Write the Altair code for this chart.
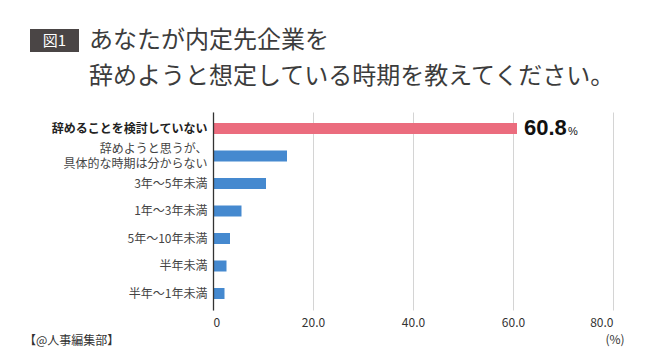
import altair as alt
import pandas as pd

categories = [
    "辞めることを検討していない",
    "辞めようと思うが、|具体的な時期は分からない",
    "3年〜5年未満",
    "1年〜3年未満",
    "5年〜10年未満",
    "半年未満",
    "半年〜1年未満",
]
values = [60.8, 14.8, 10.6, 5.7, 3.4, 2.7, 2.3]
x_ticks = [0, 20, 40, 60, 80]
fig_label = ["図1"]
title_line1 = ["あなたが内定先企業を"]
title_line2 = ["辞めようと想定している時期を教えてください。"]
source_text = ["【@人事編集部】"]
unit_text = ["(%)"]
highlight_cat = categories[0]
twoline_cat = categories[1]

JP = "Noto Sans CJK JP"
NUM = "Liberation Sans"
PINK = "#EB6C7E"
BLUE = "#4589CF"

df = pd.DataFrame({"cat": categories, "value": values})
df_top = df[df["cat"] == highlight_cat].reset_index(drop=True)
df_top = df_top.assign(label=df_top["value"].map(lambda v: f"{v:.1f}"), pct="%")

y_enc = alt.Y(
    "cat:N",
    sort=categories,
    scale=alt.Scale(paddingInner=0, paddingOuter=0.1),
    axis=alt.Axis(
        title=None,
        domain=True,
        domainColor="#333333",
        domainWidth=1.3,
        ticks=False,
        grid=False,
        labelPadding=6,
        labelFont=JP,
        labelFontSize=12,
        labelLimit=300,
        labelLineHeight=15,
        labelOffset={"expr": f"datum.value == '{twoline_cat}' ? -7.5 : 0"},
        labelColor={"expr": f"datum.value == '{highlight_cat}' ? '#222222' : '#444444'"},
        labelFontWeight={"expr": f"datum.value == '{highlight_cat}' ? 'bold' : 'normal'"},
        labelExpr="split(datum.value, '|')",
        zindex=1,
    ),
)

x_enc = alt.X(
    "value:Q",
    scale=alt.Scale(domain=[0, 80], nice=False),
    axis=alt.Axis(
        title=None,
        values=x_ticks,
        domain=False,
        ticks=False,
        grid=True,
        gridColor="#d4d4d4",
        gridWidth=1,
        labelPadding=7,
        labelFont=JP,
        labelFontSize=12,
        labelColor="#333333",
        labelExpr="datum.value == 0 ? '0' : format(datum.value, '.1f')",
    ),
)

bars = alt.Chart(df).mark_bar(size=11).encode(
    y=y_enc,
    x=x_enc,
    color=alt.condition(
        f"datum.cat == '{highlight_cat}'", alt.value(PINK), alt.value(BLUE)
    ),
)

val_label = alt.Chart(df_top).mark_text(
    align="left", baseline="alphabetic", dx=7, dy=6,
    font=NUM, fontWeight="bold", fontSize=22, color="#111111",
).encode(
    y=alt.Y("cat:N", sort=categories),
    x=alt.X("value:Q"),
    text="label:N",
)

pct_label = alt.Chart(df_top).mark_text(
    align="left", baseline="alphabetic", dx=51, dy=6,
    font=NUM, fontSize=11, color="#111111",
).encode(
    y=alt.Y("cat:N", sort=categories),
    x=alt.X("value:Q"),
    text="pct:N",
)

box = alt.Chart(pd.DataFrame({"t": fig_label})).mark_rect(color="#4a4545").encode(
    x=alt.value(-183), x2=alt.value(-134), y=alt.value(-83), y2=alt.value(-60)
)
box_text = alt.Chart(pd.DataFrame({"t": fig_label})).mark_text(
    font=JP, fontSize=15, color="white", align="center", baseline="middle"
).encode(x=alt.value(-158.5), y=alt.value(-71), text="t:N")

t1 = alt.Chart(pd.DataFrame({"t": title_line1})).mark_text(
    font=JP, fontSize=24, color="#3c3c3c", align="left", baseline="middle"
).encode(x=alt.value(-124), y=alt.value(-71), text="t:N")
t2 = alt.Chart(pd.DataFrame({"t": title_line2})).mark_text(
    font=JP, fontSize=24, color="#3c3c3c", align="left", baseline="middle"
).encode(x=alt.value(-124), y=alt.value(-35), text="t:N")

src = alt.Chart(pd.DataFrame({"t": source_text})).mark_text(
    font=JP, fontSize=12, color="#333333", align="left", baseline="middle"
).encode(x=alt.value(-189), y=alt.value(229), text="t:N")

unit = alt.Chart(pd.DataFrame({"t": unit_text})).mark_text(
    font=JP, fontSize=12, color="#333333", align="center", baseline="middle"
).encode(x=alt.value(402), y=alt.value(228), text="t:N")

chart = alt.layer(
    bars, val_label, pct_label, box, box_text, t1, t2, src, unit
).properties(
    width=400,
    height=198,
    autosize=alt.AutoSizeParams(type="none"),
    padding={"left": 205, "top": 104, "right": 20, "bottom": 40},
    background="white",
).configure_view(stroke=None)

chart.save("out.html", embed_options={"renderer": "svg", "actions": False})
